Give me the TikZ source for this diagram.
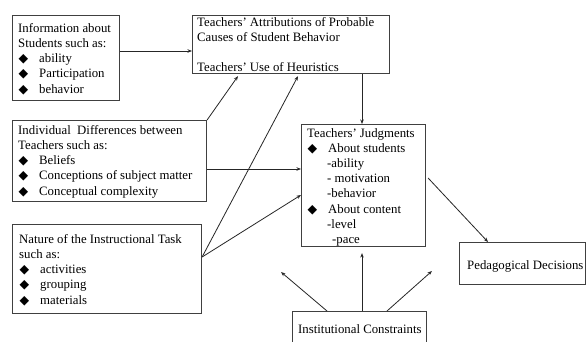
\documentclass[tikz,border=0pt]{standalone}
\usepackage{fontspec}
\setmainfont{Liberation Serif}
\newfontfamily\symfont{DejaVu Sans}
\usetikzlibrary{arrows.meta,calc}
\newcommand{\dia}{\makebox[21pt][l]{\hspace{0.5pt}{\symfont\fontsize{12.5}{10}\selectfont ◆}}}
\tikzset{
  box/.style={draw=black!75,line width=1.1pt,rectangle,inner sep=0pt,anchor=north west},
  txt/.style={anchor=north west,inner sep=0pt,align=left,font=\fontsize{12.8}{15.2}\selectfont},
  arr/.style={draw=black!85,line width=0.8pt,-{Stealth[length=4.5pt,width=3.5pt]}}
}
\begin{document}
\begin{tikzpicture}[x=1pt,y=-1pt]
\useasboundingbox[fill=white] (0,0) rectangle (587,341);
% boxes
\node[box,minimum width=107pt,minimum height=85pt] (b1) at (12,15) {};
\node[box,minimum width=197pt,minimum height=58pt] (b2) at (192,15) {};
\node[box,minimum width=194pt,minimum height=81pt] (b3) at (12,120) {};
\node[box,minimum width=189pt,minimum height=89pt] (b4) at (12,224) {};
\node[box,minimum width=124pt,minimum height=122pt] (b5) at (301,124) {};
\node[box,minimum width=126pt,minimum height=42pt] (b6) at (459,242) {};
\node[box,minimum width=134pt,minimum height=36pt] (b7) at (292,311) {};
% texts
\node[txt] (t1) at (18,23) {Information about\\Students such as:\\\dia ability\\\dia Participation\\\dia behavior};
\node[txt] (t2) at (197,17) {Teachers' Attributions of Probable\\Causes of Student Behavior\\[15.2pt]Teachers' Use of Heuristics};
\node[txt] (t3) at (18,125) {Individual\ \ Differences between\\Teachers such as:\\\dia Beliefs\\\dia Conceptions of subject matter\\\dia Conceptual complexity};
\node[txt] (t4) at (19,234) {Nature of the Instructional Task\\such as:\\\dia activities\\\dia grouping\\\dia materials};
\node[txt] (t5) at (307,128) {Teachers' Judgments\\\dia About students\\\hspace{20pt}-ability\\\hspace{20pt}- motivation\\\hspace{20pt}-behavior\\\dia About content\\\hspace{20pt}-level\\\hspace{25pt}-pace};
\node[txt] (t6) at (467,260) {Pedagogical Decisions};
\node[txt] (t7) at (298,324) {Institutional Constraints};
% free ends
\coordinate (f1) at (281,272);
\coordinate (f2) at (432,271);
% connectors
\draw[arr] ($(b1.north east)+(0,36)$) -- ($(b2.north west)+(0,36)$);
\draw[arr] (b3.north east) -- ($(b2.south west)+(46,2)$);
\draw[arr] ($(b4.north east)+(0,33)$) -- ($(b2.south west)+(106,2)$);
\draw[arr] ($(b4.north east)+(0,33)$) -- ($(b5.north west)+(0,71)$);
\draw[arr] ($(b3.north east)+(0,49)$) -- ($(b5.north west)+(0,45)$);
\draw[arr] ($(b2.south west)+(170,0)$) -- ($(b5.north west)+(61,0)$);
\draw[arr] ($(b5.north east)+(2,54)$) -- ($(b6.north west)+(29,0)$);
\draw[arr] ($(b7.north west)+(70,0)$) -- ($(b5.south west)+(61,6)$);
\draw[arr] ($(b7.north west)+(35,0)$) -- (f1);
\draw[arr] ($(b7.north west)+(95,0)$) -- (f2);
\end{tikzpicture}
\end{document}
